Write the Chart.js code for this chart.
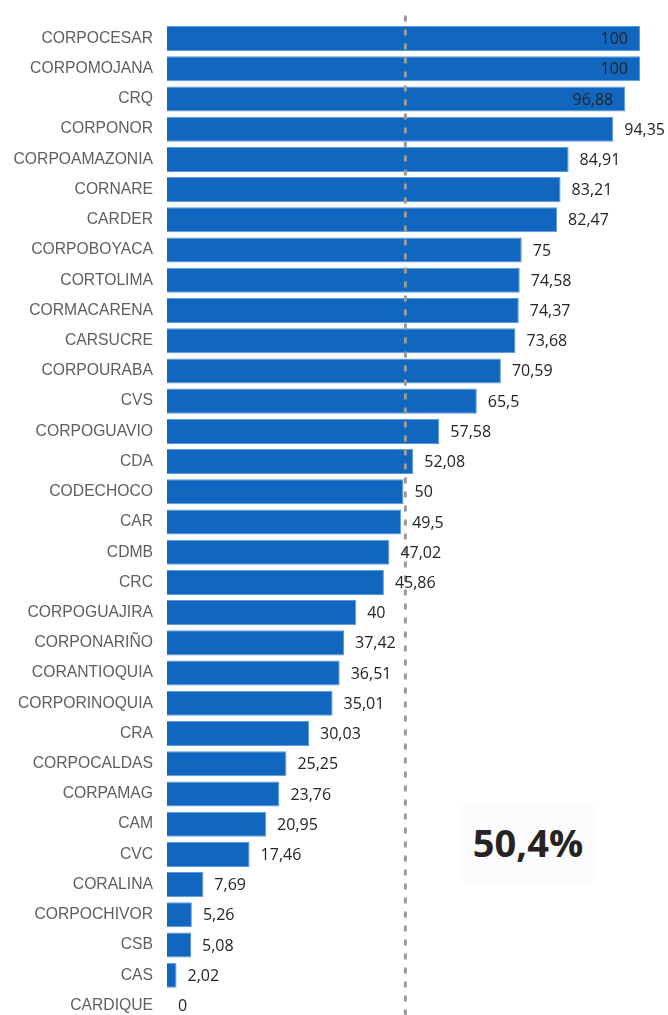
<!DOCTYPE html>
<html>
<head>
<meta charset="utf-8">
<script src="https://cdn.jsdelivr.net/npm/chart.js@4.4.0/dist/chart.umd.min.js"></script>
<style>
  html, body { margin: 0; padding: 0; background: #ffffff; overflow: hidden; }
  #wrap { position: relative; width: 668px; height: 1046px; }
  #kpi { position: absolute; left: 462px; top: 802px; width: 132px; height: 80px;
         font-family: "Open Sans", "DejaVu Sans", sans-serif; font-weight: 700; font-size: 38px;
         color: #252423; text-align: center; line-height: 80px; background: #fcfcff; }
</style>
</head>
<body>
<div id="wrap">
  <canvas id="c" width="668" height="1044"></canvas>
  <div id="kpi"></div>
</div>
<script>
const categories = ["CORPOCESAR","CORPOMOJANA","CRQ","CORPONOR","CORPOAMAZONIA","CORNARE","CARDER","CORPOBOYACA","CORTOLIMA","CORMACARENA","CARSUCRE","CORPOURABA","CVS","CORPOGUAVIO","CDA","CODECHOCO","CAR","CDMB","CRC","CORPOGUAJIRA","CORPONARIÑO","CORANTIOQUIA","CORPORINOQUIA","CRA","CORPOCALDAS","CORPAMAG","CAM","CVC","CORALINA","CORPOCHIVOR","CSB","CAS","CARDIQUE"];
const values = [100,100,96.88,94.35,84.91,83.21,82.47,75,74.58,74.37,73.68,70.59,65.5,57.58,52.08,50,49.5,47.02,45.86,40,37.42,36.51,35.01,30.03,25.25,23.76,20.95,17.46,7.69,5.26,5.08,2.02,0];
const averageValue = 50.4;
const axisMax = 100;

const fmt = v => String(v).replace('.', ',');
document.getElementById('kpi').textContent = fmt(averageValue) + '%';

const valueLabels = {
  id: 'valueLabels',
  afterDatasetsDraw(chart) {
    const ctx = chart.ctx;
    const xs = chart.scales.x;
    const ca = chart.chartArea;
    const ax = xs.getPixelForValue(averageValue);
    ctx.save();
    ctx.strokeStyle = '#9a9a9a';
    ctx.lineWidth = 3;
    ctx.setLineDash([6, 8]);
    ctx.beginPath();
    ctx.moveTo(ax, ca.top - 8);
    ctx.lineTo(ax, chart.height);
    ctx.stroke();
    ctx.restore();

    ctx.save();
    ctx.font = '16px "Open Sans", "DejaVu Sans", sans-serif';
    ctx.fillStyle = '#252423';
    ctx.textBaseline = 'middle';
    const meta = chart.getDatasetMeta(0);
    meta.data.forEach((bar, i) => {
      const txt = fmt(values[i]);
      const w = ctx.measureText(txt).width;
      if (bar.x + 10 + w > chart.width) {
        ctx.textAlign = 'right';
        ctx.fillText(txt, bar.x - 12, bar.y + 1);
      } else {
        ctx.textAlign = 'left';
        ctx.fillText(txt, bar.x + 11, bar.y + 1);
      }
    });
    ctx.restore();
  }
};

new Chart(document.getElementById('c'), {
  type: 'bar',
  data: {
    labels: categories,
    datasets: [{
      data: values,
      backgroundColor: '#1167bf',
      borderColor: '#5a9ae0',
      borderWidth: 1,
      categoryPercentage: 1,
      barPercentage: 0.83
    }]
  },
  options: {
    indexAxis: 'y',
    responsive: false,
    animation: false,
    layout: { padding: { top: 18, right: 28, left: 0, bottom: 0 } },
    plugins: { legend: { display: false }, tooltip: { enabled: false } },
    scales: {
      x: { min: 0, max: axisMax, display: false },
      y: {
        grid: { display: false, drawTicks: false },
        border: { display: false },
        ticks: { padding: 14, color: '#605e5c', font: { family: '"Liberation Sans", Arial, sans-serif', size: 15.7 } },
        afterFit(scale) { scale.width = 167; }
      }
    }
  },
  plugins: [valueLabels]
});
</script>
</body>
</html>
